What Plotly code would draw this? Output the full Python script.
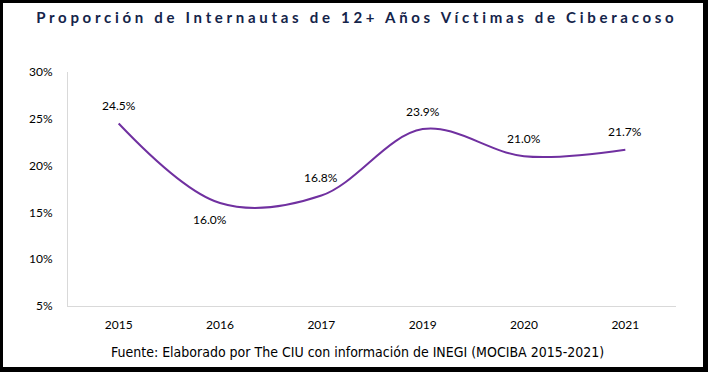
import plotly.graph_objects as go

years = ["2015", "2016", "2017", "2019", "2020", "2021"]
values = [24.5, 16.0, 16.8, 23.9, 21.0, 21.7]
labels = ["24.5%", "16.0%", "16.8%", "23.9%", "21.0%", "21.7%"]
label_above = [True, False, True, True, True, True]

title_text = "Proporción de Internautas de 12+ Años Víctimas de Ciberacoso"
source_text = "Fuente: Elaborado por The CIU con información de INEGI (MOCIBA 2015-2021)"

W, H = 708, 372
L, R, T, B = 68, 32, 72, 66
pw, ph = W - L - R, H - T - B

fig = go.Figure()
fig.add_trace(go.Scatter(
    x=years, y=values, mode="lines",
    line=dict(color="#7030a0", width=2, shape="spline", smoothing=1.0),
    hoverinfo="skip", showlegend=False,
))

for i, (yv, lab, above) in enumerate(zip(values, labels, label_above)):
    fig.add_annotation(
        x=i, y=yv, xref="x", yref="y", text=lab, showarrow=False,
        xshift=0 if above else -10, yshift=18 if above else -16,
        font=dict(family="Lato, Noto Sans, sans-serif", size=12, color="#000000"),
    )

# white card with black frame
fig.add_shape(
    type="rect", xref="paper", yref="paper", layer="below",
    x0=(3 - L) / pw, x1=(703 - L) / pw,
    y0=(H - B - 367) / ph, y1=(H - B - 3) / ph,
    fillcolor="white", line=dict(width=0),
)

fig.add_annotation(
    xref="paper", yref="paper", x=(357 - L) / pw, y=(H - B - 17) / ph,
    text="<b>" + title_text + "</b>", showarrow=False,
    xanchor="center", yanchor="middle",
    font=dict(family="Lato, Noto Sans, sans-serif", size=15, color="#14244a"),
)
fig.add_annotation(
    xref="paper", yref="paper", x=(357 - L) / pw, y=(H - B - 352) / ph,
    text=source_text, showarrow=False,
    xanchor="center", yanchor="middle",
    font=dict(family="Liberation Sans Narrow, DejaVu Sans Condensed, sans-serif", size=14, color="#000000"),
)

fig.update_layout(
    width=W, height=H,
    margin=dict(l=L, r=R, t=T, b=B, pad=0),
    paper_bgcolor="#000000", plot_bgcolor="#ffffff",
    xaxis=dict(
        type="category", range=[-0.5, 5.5], showgrid=False, zeroline=False,
        showline=True, linecolor="#d9d9d9", linewidth=1, ticks="",
        tickfont=dict(family="Lato, Noto Sans, sans-serif", size=12, color="#000000"),
        ticklabelstandoff=8,
    ),
    yaxis=dict(
        range=[5, 30], dtick=5, tick0=5, ticksuffix="%", showgrid=False, zeroline=False,
        showline=True, linecolor="#d9d9d9", linewidth=1, ticks="",
        tickfont=dict(family="Lato, Noto Sans, sans-serif", size=12, color="#000000"),
        ticklabelstandoff=12,
    ),
)

post = """
document.body.style.margin = '0';
document.querySelectorAll('.annotation-text').forEach(function(e){
  if (e.textContent.indexOf('Proporci') === 0) { e.style.letterSpacing = '3.7px'; }
});
"""
fig.write_html("out.html", post_script=post, config={"displayModeBar": False})
